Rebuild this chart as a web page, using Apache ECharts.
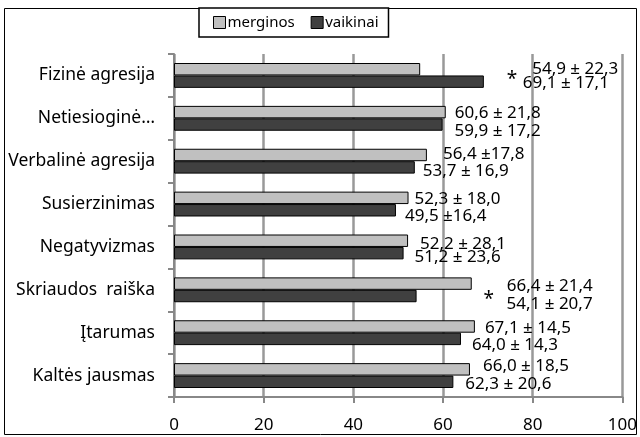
<!DOCTYPE html>
<html>
<head>
<meta charset="utf-8">
<script src="https://cdn.jsdelivr.net/npm/echarts@6/dist/echarts.min.js"></script>
<style>
  html, body { margin: 0; padding: 0; background: #fff; }
  #main { width: 640px; height: 437px; }
</style>
</head>
<body>
<div id="main"></div>
<script>
// categories from top to bottom
const categories = [
  "Fizinė agresija",
  "Netiesioginė…",
  "Verbalinė agresija",
  "Susierzinimas",
  "Negatyvizmas",
  "Skriaudos  raiška",
  "Įtarumas",
  "Kaltės jausmas"
];
const merginos = [54.9, 60.6, 56.4, 52.3, 52.2, 66.4, 67.1, 66.0];
const vaikinai = [69.1, 59.9, 53.7, 49.5, 51.2, 54.1, 64.0, 62.3];
const merginosLabels = ["54,9 ± 22,3", "60,6 ± 21,8", "56,4 ±17,8", "52,3 ± 18,0", "52,2 ± 28,1", "66,4 ± 21,4", "67,1 ± 14,5", "66,0 ± 18,5"];
const vaikinaiLabels = ["69,1 ± 17,1", "59,9 ± 17,2", "53,7 ± 16,9", "49,5 ±16,4", "51,2 ± 23,6", "54,1 ± 20,7", "64,0 ± 14,3", "62,3 ± 20,6"];
const significant = [true, false, false, false, false, true, false, false];
const xTicks = [0, 20, 40, 60, 80, 100];

// label placement (px offsets from the bar end), as placed by hand in the original
const lightShift = [[112, 0], [9, 1], [16, -1], [6, 1], [12, 3], [35, 3], [10, 2], [13, -3]];
const darkShift = [[23, 2], [12, 7], [8, 4], [9, 6], [11, 4], [67, 8], [11, 6], [12, 2]];
const starGap = [16, 0, 0, 0, 0, 23, 0, 0];

const FONT = "Noto Sans";

const lightData = merginos.map((v, i) => ({
  value: v,
  label: { offset: lightShift[i], formatter: merginosLabels[i] }
}));
const darkData = vaikinai.map((v, i) => ({
  value: v,
  label: {
    offset: darkShift[i],
    formatter: significant[i] ? "{s|*}{t|" + vaikinaiLabels[i] + "}" : "{t|" + vaikinaiLabels[i] + "}",
    rich: {
      s: { width: starGap[i], fontSize: 19, fontFamily: FONT, color: "#000", padding: [0, 0, 8, 0] },
      t: { fontSize: 17, fontFamily: FONT, color: "#000" }
    }
  }
}));

const chart = echarts.init(document.getElementById("main"));

chart.setOption({
  animation: false,
  backgroundColor: "#fff",
  graphic: [{
    type: "rect",
    z: 0,
    shape: { x: 4.5, y: 8.5, width: 632, height: 426 },
    style: { fill: "none", stroke: "#000", lineWidth: 1 }
  }],
  legend: {
    left: 199,
    top: 8,
    z: 10,
    backgroundColor: "#fff",
    borderColor: "#000",
    borderWidth: 1.5,
    borderRadius: 0,
    padding: [7, 10, 7, 14],
    itemGap: 16,
    itemWidth: 12,
    itemHeight: 12,
    icon: "rect",
    itemStyle: { borderColor: "#000", borderWidth: 1 },
    textStyle: { fontFamily: FONT, fontSize: 15, color: "#000", padding: [0, 0, 0, -3] },
    data: ["merginos", "vaikinai"]
  },
  grid: { left: 174, right: 17, top: 54, bottom: 40 },
  xAxis: {
    type: "value",
    min: 0,
    max: 100,
    interval: 20,
    axisLine: { show: true, lineStyle: { color: "#888", width: 2 } },
    axisTick: { show: true, length: 6, lineStyle: { color: "#888", width: 2 } },
    axisLabel: {
      margin: 20,
      fontFamily: FONT,
      fontSize: 17,
      color: "#000",
      formatter: (v) => xTicks.includes(v) ? String(v) : ""
    },
    splitLine: { show: true, lineStyle: { color: "#999", width: 2.5 } }
  },
  yAxis: {
    type: "category",
    inverse: true,
    data: categories,
    axisLine: { show: true, lineStyle: { color: "#888", width: 2 } },
    axisTick: { show: true, length: 6, lineStyle: { color: "#888", width: 2 } },
    axisLabel: { margin: 19, fontFamily: FONT, fontSize: 17.5, color: "#000" }
  },
  series: [
    {
      name: "merginos",
      type: "bar",
      barGap: "0%",
      barCategoryGap: "42%",
      itemStyle: { color: "#c0c0c0", borderColor: "#000", borderWidth: 1 },
      label: {
        show: true,
        position: "right",
        distance: 0,
        fontFamily: FONT,
        fontSize: 17,
        color: "#000"
      },
      data: lightData
    },
    {
      name: "vaikinai",
      type: "bar",
      barGap: "0%",
      barCategoryGap: "42%",
      itemStyle: { color: "#404040", borderColor: "#000", borderWidth: 1 },
      label: {
        show: true,
        position: "right",
        distance: 0,
        fontFamily: FONT,
        fontSize: 17,
        color: "#000"
      },
      data: darkData
    }
  ]
});
</script>
</body>
</html>
